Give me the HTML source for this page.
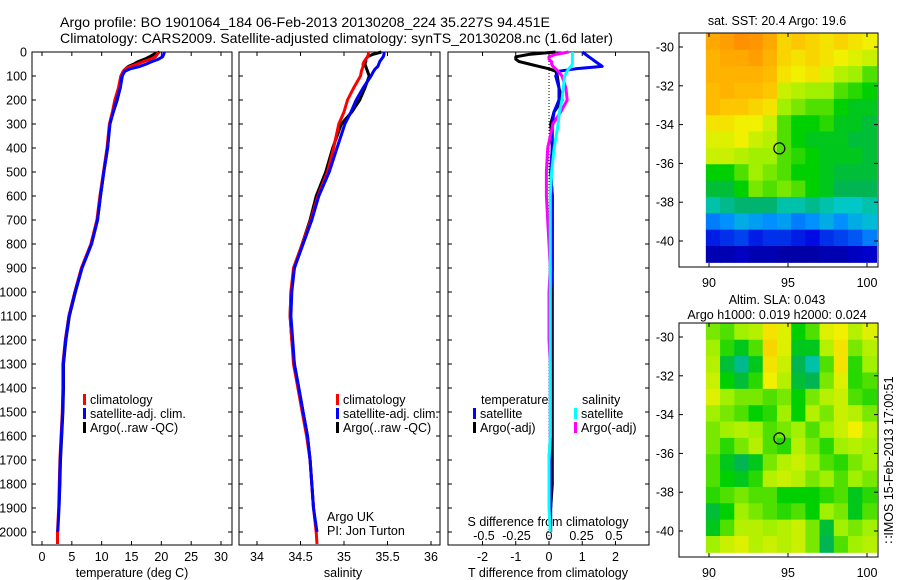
<!DOCTYPE html>
<html><head><meta charset="utf-8"><style>
html,body{margin:0;padding:0;background:#fff;}
svg{display:block;font-family:"Liberation Sans",sans-serif;}
text{fill:#000;}
</style></head><body>
<svg id="chart" width="900" height="580" viewBox="0 0 900 580" xmlns="http://www.w3.org/2000/svg">
<text x="60" y="27" font-size="14" textLength="490" lengthAdjust="spacingAndGlyphs">Argo profile: BO 1901064_184 06-Feb-2013 20130208_224 35.227S 94.451E</text>
<text x="60" y="43" font-size="14" textLength="553" lengthAdjust="spacingAndGlyphs">Climatology: CARS2009. Satellite-adjusted climatology: synTS_20130208.nc (1.6d later)</text>
<g id="g"></g>
</svg>
<script>
// ---- data ----
const depths = [0,10,20,30,40,50,60,70,80,100,150,200,250,300,400,500,600,700,800,900,1000,1100,1200,1300,1400,1500,1600,1700,1800,1900,2000,2050];
const tempClim = [19.5,19.3,19.0,18.2,17.0,16.0,14.8,14.0,13.6,13.2,12.8,12.2,11.8,11.3,10.9,10.3,9.7,9.2,8.2,6.6,5.5,4.5,3.9,3.5,3.5,3.4,3.2,3.0,2.9,2.8,2.6,2.6];
const tempSat = [20.5,20.4,20.2,19.5,18.4,17.5,16.4,14.8,13.9,13.4,13.1,12.5,11.95,11.4,11.0,10.35,9.8,9.3,8.3,6.7,5.55,4.55,3.95,3.55,3.55,3.45,3.25,3.05,2.95,2.85,2.65,null];
const tempArgo = [19.7,18.7,18.0,17.2,16.1,15.4,14.5,14.0,13.8,13.45,13.1,12.6,11.95,11.35,11.0,10.35,9.8,9.3,8.3,6.7,5.6,4.6,4.0,3.6,3.6,3.5,3.3,3.1,3.0,2.85,null,null];
const salClim = [35.28,35.28,35.27,35.25,35.23,35.22,35.22,35.21,35.2,35.19,35.11,35.04,35.0,34.94,34.88,34.81,34.70,34.62,34.52,34.42,34.39,34.38,34.40,34.42,34.47,34.52,34.57,34.61,34.63,34.65,34.68,34.69];
const salSat = [35.46,35.46,35.45,35.43,35.41,35.40,35.39,35.36,35.34,35.31,35.22,35.14,35.08,35.01,34.92,34.83,34.71,34.63,34.53,34.43,34.40,34.39,34.41,34.43,34.48,34.53,34.58,34.61,34.63,34.65,34.69,null];
const salArgo = [35.43,35.33,35.27,35.25,35.25,35.24,35.25,35.26,35.27,35.29,35.24,35.18,35.09,34.97,34.87,34.79,34.68,34.61,34.52,34.43,34.39,34.38,34.40,34.43,34.48,34.53,34.58,34.61,34.63,34.65,null,null];
const depthTicks = [0,100,200,300,400,500,600,700,800,900,1000,1100,1200,1300,1400,1500,1600,1700,1800,1900,2000];
const tempTicks = [0,5,10,15,20,25,30];
const salTicks = [34,34.5,35,35.5,36];
const dTTicks = [-2,-1,0,1,2];
const dSTicks = [-0.5,-0.25,0,0.25,0.5];
const lonTicks = [90,95,100];
const latTicks = [-30,-32,-34,-36,-38,-40];
const sstGrid = [
[.80,.82,.85,.84,.80,.72,.74,.72,.70,.72,.70,.68],
[.78,.80,.80,.82,.78,.72,.70,.72,.70,.68,.66,.64],
[.78,.78,.78,.78,.76,.70,.68,.70,.66,.62,.60,.56],
[.76,.78,.76,.76,.74,.64,.62,.60,.60,.56,.54,.52],
[.76,.74,.74,.72,.70,.60,.58,.56,.56,.52,.50,.50],
[.70,.70,.68,.68,.64,.56,.52,.52,.54,.50,.50,.48],
[.66,.66,.68,.64,.62,.56,.52,.50,.50,.50,.48,.48],
[.64,.64,.62,.60,.60,.56,.54,.52,.50,.50,.50,.48],
[.52,.52,.56,.60,.58,.56,.52,.52,.50,.48,.48,.48],
[.48,.48,.52,.58,.56,.58,.56,.52,.50,.46,.46,.46],
[.40,.42,.44,.44,.44,.40,.40,.42,.40,.38,.38,.40],
[.28,.30,.34,.32,.30,.32,.28,.30,.34,.30,.34,.36],
[.18,.20,.22,.18,.20,.20,.18,.16,.20,.22,.24,.28],
[.08,.08,.10,.08,.08,.06,.06,.06,.08,.08,.10,.12]];
const slaGrid = [
[.58,.56,.60,.62,.70,.66,.52,.56,.66,.68,.62,.66],
[.60,.54,.50,.56,.72,.66,.50,.50,.62,.70,.58,.62],
[.62,.48,.42,.50,.70,.64,.46,.40,.56,.70,.54,.60],
[.64,.52,.48,.54,.68,.62,.48,.46,.58,.66,.54,.56],
[.66,.60,.58,.58,.56,.58,.52,.58,.62,.64,.56,.54],
[.60,.58,.56,.52,.54,.60,.52,.62,.58,.64,.62,.58],
[.58,.60,.62,.60,.56,.58,.60,.56,.60,.64,.68,.62],
[.58,.54,.58,.62,.56,.54,.62,.58,.54,.60,.62,.60],
[.56,.50,.46,.50,.58,.62,.64,.60,.56,.54,.58,.60],
[.56,.52,.50,.54,.62,.64,.62,.58,.60,.56,.60,.58],
[.54,.56,.58,.56,.56,.52,.52,.52,.54,.56,.50,.54],
[.48,.52,.60,.58,.56,.54,.56,.52,.60,.58,.50,.56],
[.50,.56,.62,.62,.60,.62,.64,.58,.48,.60,.58,.60],
[.60,.64,.66,.62,.64,.62,.64,.58,.46,.56,.60,.62]];
const argoLon = 94.451, argoLat = -35.227;

// ---- scales ----
const NS="http://www.w3.org/2000/svg";
const G=document.getElementById('g');
const yD=d=>52+d*0.24;
const xT=t=>42+t*5.967;
const xS=s=>257+(s-34)*87;
const xDT=v=>549+v*33.25;
const xDS=v=>549+v*130;
function mk(tag,attrs,parent){const e=document.createElementNS(NS,tag);for(const k in attrs)e.setAttribute(k,attrs[k]);(parent||G).appendChild(e);return e;}
function txt(x,y,s,size,anchor){const e=mk('text',{x:x,y:y,'font-size':size||12.5,'text-anchor':anchor||'start'});e.textContent=s;return e;}

const panels=[{l:32,r:232},{l:239,r:440},{l:448,r:649}];
const TOP=52,BOT=545;
panels.forEach((p,i)=>{
  const fr=mk('rect',{x:p.l,y:TOP,width:p.r-p.l,height:BOT-TOP,fill:'none',stroke:'#000','stroke-width':1});
  
  
  depthTicks.forEach(d=>{
    mk('line',{x1:p.l,x2:p.l+4,y1:yD(d),y2:yD(d),stroke:'#000'});
    mk('line',{x1:p.r-4,x2:p.r,y1:yD(d),y2:yD(d),stroke:'#000'});
  });
});
depthTicks.forEach(d=>{const t=txt(27,yD(d)+4.5,String(d),12.5,'end');
  
  });

function xticks(arr,fx,p,labelFn){arr.forEach(v=>{const x=fx(v);
  mk('line',{x1:x,x2:x,y1:BOT-4,y2:BOT,stroke:'#000'});
  mk('line',{x1:x,x2:x,y1:TOP,y2:TOP+4,stroke:'#000'});
  if(labelFn){const t=txt(x,561,labelFn(v),12.5,'middle');
    
    }
});}
xticks(tempTicks,xT,panels[0],v=>String(v));
xticks(salTicks,xS,panels[1],v=>String(v));
xticks(dTTicks,xDT,panels[2],v=>String(v));
dSTicks.forEach(v=>{const t=txt(xDS(v),540,String(v),12.5,'middle');
  
  });

let t;
t=txt(132,577,'temperature (deg C)',12.5,'middle');
t=txt(343,577,'salinity',12.5,'middle');
t=txt(548,577,'T difference from climatology',12.5,'middle');
t=txt(548,526,'S difference from climatology',12.5,'middle');

const zl=mk('line',{x1:549,x2:549,y1:TOP,y2:BOT,stroke:'#000','stroke-dasharray':'1,2'});



function profile(vals,fx,color,name){
  let d='',pen=false;
  vals.forEach((v,i)=>{ if(v===null||v===undefined){pen=false;return;}
    d+=(pen?'L':'M')+fx(v).toFixed(1)+','+yD(depths[i]).toFixed(1); pen=true;});
  const p=mk('path',{d:d,fill:'none',stroke:color,'stroke-width':3,'stroke-linejoin':'round'});
  
  
}
profile(tempArgo,xT,'#000','temp-argo-line');
profile(tempClim,xT,'#f00','temp-climatology-line');
profile(tempSat,xT,'#00f','temp-satellite-line');
profile(salArgo,xS,'#000','sal-argo-line');
profile(salClim,xS,'#f00','sal-climatology-line');
profile(salSat,xS,'#00f','sal-satellite-line');
const diff=(a,b)=>a.map((v,i)=>(v===null||b[i]===null)?null:v-b[i]);
profile(diff(tempArgo,tempClim),xDT,'#000','t-diff-argo-line');
profile(diff(tempSat,tempClim),xDT,'#00f','t-diff-satellite-line');
profile(diff(salArgo,salClim),xDS,'#f0f','s-diff-argo-line');
profile(diff(salSat,salClim),xDS,'#0ff','s-diff-satellite-line');

function legend(x,y,color,label,name){
  const r=mk('rect',{x:x,y:y-10,width:3,height:11,fill:color});
  
  
  const tt=txt(x+7,y,label,12.5);
  
  
}
[[83],[336]].forEach(([x],i)=>{
  legend(x,404,'#f00','climatology','legend-climatology');
  legend(x,418,'#00f','satellite-adj. clim.','legend-satellite');
  legend(x,432,'#000','Argo(..raw -QC)','legend-argo');
});
t=txt(481,404,'temperature',12.5);
t=txt(582,404,'salinity',12.5);
legend(473,418,'#00f','satellite','legend-t-satellite');
legend(473,432,'#000','Argo(-adj)','legend-t-argo');
legend(574,418,'#0ff','satellite','legend-s-satellite');
legend(574,432,'#f0f','Argo(-adj)','legend-s-argo');
t=txt(327,521,'Argo UK',12.5);
t=txt(327,535,'PI: Jon Turton',12.5);

// ---- maps ----
const stops=[[0,[0,0,128]],[.15,[0,0,224]],[.3,[0,144,255]],[.38,[0,200,200]],[.45,[0,176,96]],[.52,[0,208,0]],[.6,[160,240,0]],[.68,[240,240,0]],[.75,[255,192,0]],[.85,[255,144,0]],[.95,[192,64,0]],[1,[160,32,0]]];
function cmap(v){for(let i=1;i<stops.length;i++){if(v<=stops[i][0]){const a=stops[i-1],b=stops[i],f=(v-a[0])/(b[0]-a[0]);
  return 'rgb('+a[1].map((c,k)=>Math.round(c+(b[1][k]-c)*f)).join(',')+')';}}return 'rgb(160,32,0)';}
const LON0=89.8,LON1=100.6,LAT0=-29.3,LAT1=-41.1;
function drawMap(top,grid,name){
  const fx=lon=>709+(lon-90)*15.8;
  const fy=lat=>top+14+(-30-lat)*19.4;
  const rows=grid.length,cols=grid[0].length;
  const cw=(fx(LON1)-fx(LON0))/cols,ch=(fy(LAT1)-fy(LAT0))/rows;
  grid.forEach((row,r)=>row.forEach((v,c)=>{
    const cell=mk('rect',{x:(fx(LON0)+c*cw).toFixed(2),y:(fy(LAT0)+r*ch).toFixed(2),width:(cw+0.5).toFixed(2),height:(ch+0.5).toFixed(2),fill:cmap(v)});
    
    
  }));
  const fr=mk('rect',{x:679,y:top,width:199,height:234,fill:'none',stroke:'#000'});
  
  
  lonTicks.forEach(l=>{mk('line',{x1:fx(l),x2:fx(l),y1:top+230,y2:top+234,stroke:'#000'});
    mk('line',{x1:fx(l),x2:fx(l),y1:top,y2:top+4,stroke:'#000'});
    const tl=txt(fx(l),top+254,String(l),12.5,'middle');
    
    });
  latTicks.forEach(l=>{mk('line',{x1:679,x2:683,y1:fy(l),y2:fy(l),stroke:'#000'});
    mk('line',{x1:874,x2:878,y1:fy(l),y2:fy(l),stroke:'#000'});
    const tl=txt(674,fy(l)+4.5,String(l),12.5,'end');
    
    });
  const c=mk('circle',{cx:fx(argoLon),cy:fy(argoLat),r:5.5,fill:'none',stroke:'#000','stroke-width':1.2});
  
  
}
drawMap(33,sstGrid,'sst-map');
drawMap(323,slaGrid,'sla-map');
t=txt(777,25,'sat. SST: 20.4 Argo: 19.6',12.5,'middle');
t=txt(777,304,'Altim. SLA: 0.043',12.5,'middle');
t=txt(777,319,'Argo h1000: 0.019 h2000: 0.024',12.5,'middle');
t=txt(0,0,'\u2237IMOS 15-Feb-2013 17:00:51',12.5,'middle');
t.setAttribute('transform','translate(893,460) rotate(-90)');


</script>
</body></html>
